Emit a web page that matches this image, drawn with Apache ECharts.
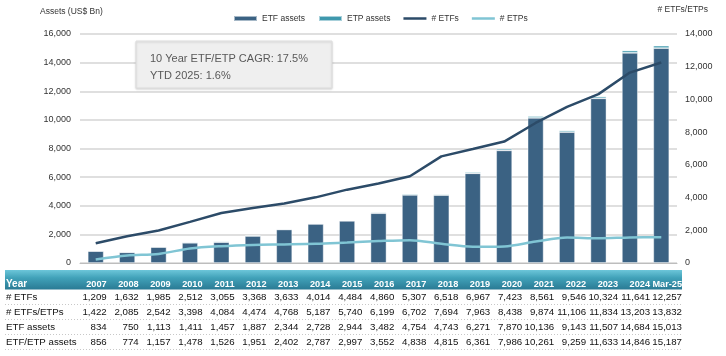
<!DOCTYPE html>
<html>
<head>
<meta charset="utf-8">
<script src="https://cdn.jsdelivr.net/npm/echarts@6/dist/echarts.min.js"></script>
<style>
html,body{margin:0;padding:0;background:#fff;}
#c{width:726px;height:356px;}
</style>
</head>
<body>
<div id="c"></div>
<script>
// ---- data ----
const years = ['2007','2008','2009','2010','2011','2012','2013','2014','2015','2016','2017','2018','2019','2020','2021','2022','2023','2024','Mar-25'];
const etfCount   = [1209,1632,1985,2512,3055,3368,3633,4014,4484,4860,5307,6518,6967,7423,8561,9546,10324,11641,12257];
const totalCount = [1422,2085,2542,3398,4084,4474,4768,5187,5740,6199,6702,7694,7963,8438,9874,11106,11834,13203,13832];
const etpCount   = [213,453,557,886,1029,1106,1135,1173,1256,1339,1395,1176,996,1015,1313,1560,1510,1562,1575];
const etfAssets  = [834,750,1113,1411,1457,1887,2344,2728,2944,3482,4754,4743,6271,7870,10136,9143,11507,14684,15013];
const etpAssets  = [22,24,44,67,69,64,58,59,53,70,84,72,90,116,125,116,126,162,174];
const totalAssets= [856,774,1157,1478,1526,1951,2402,2787,2997,3552,4838,4815,6361,7986,10261,9259,11633,14846,15187];
const leftTicks  = [0,2000,4000,6000,8000,10000,12000,14000,16000];
const rightTicks = [0,2000,4000,6000,8000,10000,12000,14000];
const tableRows  = ['# ETFs','# ETFs/ETPs','ETF assets','ETF/ETP assets'];
const tableData  = [etfCount,totalCount,etfAssets,totalAssets];
const noteLines  = ['10 Year ETF/ETP CAGR: 17.5%','YTD 2025: 1.6%'];

const FONT = '"Liberation Sans", Arial, sans-serif';
const fmt = v => Number(v).toLocaleString('en-US');

const cells = [];
tableData.forEach((arr, r) => arr.forEach((v, i) => cells.push([i, r, v])));

const chart = echarts.init(document.getElementById('c'), null, {renderer:'canvas'});

const T_TOP = 289.5, T_ROW = 15;
const seps = [0,1,2,3].map(k => ({
  type:'line', silent:true, z:1,
  shape:{x1:5, y1:T_TOP + T_ROW*(k+1), x2:682, y2:T_TOP + T_ROW*(k+1)},
  style:{stroke:'#c8c8c8', lineWidth:1, lineDash:[1,2]}
}));
const lineIcon = 'path://M0,0H23V2.5H0Z';

chart.setOption({
  animation:false,
  textStyle:{fontFamily:FONT},
  legend:{
    left:228, top:9, itemWidth:23, itemHeight:5, itemGap:13,
    textStyle:{fontSize:8.5, color:'#333', fontFamily:FONT},
    data:[{name:'ETF assets', icon:'rect'},{name:'ETP assets', icon:'rect'},
          {name:'# ETFs', icon:lineIcon},{name:'# ETPs', icon:lineIcon}]
  },
  grid:[
    {left:80, right:49, top:34, bottom:93},
    {left:106.7, right:44, top:T_TOP, bottom:356 - (T_TOP + 4*T_ROW)}
  ],
  xAxis:[
    {type:'category', gridIndex:0, data:years,
     axisLine:{lineStyle:{color:'#bdbdbd', width:1}}, axisTick:{show:false}, axisLabel:{show:false}},
    {type:'category', gridIndex:1, data:years, boundaryGap:false, position:'top',
     axisLine:{show:false}, axisTick:{show:false},
     axisLabel:{show:true, interval:0, color:'#ffffff', fontWeight:'bold', fontSize:9.2, fontFamily:FONT,
       align:'right', verticalAlign:'middle', margin:5}, z:20}
  ],
  yAxis:[
    {type:'value', gridIndex:0, min:0, max:16000, interval:2000,
     axisLine:{show:false}, axisTick:{show:false},
     axisLabel:{fontSize:9, color:'#333', margin:9, formatter:fmt},
     splitLine:{lineStyle:{color:'#d4d4d4', width:1.5}}},
    {type:'value', gridIndex:0, min:0, max:14000, interval:2000, position:'right',
     axisLine:{show:false}, axisTick:{show:false},
     axisLabel:{fontSize:9, color:'#333', margin:8, formatter:fmt},
     splitLine:{show:false}},
    {type:'category', gridIndex:1, data:tableRows, inverse:true,
     axisLine:{show:false}, axisTick:{show:false}, splitLine:{show:false},
     axisLabel:{align:'left', margin:100.7, fontSize:9.7, color:'#111', fontFamily:FONT}}
  ],
  series:[
    {name:'ETF assets', type:'bar', stack:'a', xAxisIndex:0, yAxisIndex:0, data:etfAssets, barWidth:16,
     itemStyle:{color:'#3b6283', borderColor:'rgba(255,255,255,0.55)', borderWidth:0.8}},
    {name:'ETP assets', type:'bar', stack:'a', xAxisIndex:0, yAxisIndex:0, data:etpAssets, barWidth:16,
     itemStyle:{color:'#3f98ad', borderColor:'rgba(255,255,255,0.55)', borderWidth:0.8}},
    {name:'# ETFs', type:'line', xAxisIndex:0, yAxisIndex:1, data:etfCount, symbol:'none', z:5,
     lineStyle:{color:'#2c4b68', width:2.5}, itemStyle:{color:'#2c4b68'}},
    {name:'# ETPs', type:'line', xAxisIndex:0, yAxisIndex:1, data:etpCount, symbol:'none', smooth:0.3, z:5,
     lineStyle:{color:'#80c5d4', width:2.5}, itemStyle:{color:'#80c5d4'}},
    {name:'table', type:'custom', coordinateSystem:'cartesian2d', xAxisIndex:1, yAxisIndex:2,
     data:cells, encode:{x:0, y:1}, silent:true,
     renderItem:function(params, api){
       const p = api.coord([api.value(0), api.value(1)]);
       return {type:'text', style:{text:fmt(api.value(2)), x:p[0], y:p[1], align:'right', verticalAlign:'middle',
         fill:'#111', fontSize:9.7, fontFamily:FONT}};
     }}
  ],
  graphic:[
    {type:'rect', silent:true, z:0, shape:{x:5, y:270, width:677, height:19.5},
     style:{fill:{type:'linear', x:0, y:0, x2:0, y2:1, global:false, colorStops:[
       {offset:0, color:'#6cc6d9'},{offset:0.4, color:'#41a2b9'},{offset:1, color:'#2a7a94'}]}}},
    {type:'text', silent:true, z:30, style:{text:'Year', x:6, y:284.5, verticalAlign:'middle',
      fill:'#ffffff', fontWeight:'bold', fontSize:10, fontFamily:FONT}},
    ...seps,
    {type:'text', silent:true, style:{text:'Assets (US$ Bn)', x:40, y:12, verticalAlign:'middle',
      fill:'#333', fontSize:8.5, fontFamily:FONT}},
    {type:'text', silent:true, style:{text:'# ETFs/ETPs', x:708, y:10, align:'right', verticalAlign:'middle',
      fill:'#333', fontSize:8.5, fontFamily:FONT}},
    {type:'rect', silent:true, z:10, shape:{x:136, y:41, width:196, height:47},
     style:{fill:'#efefef', stroke:'#dedede', lineWidth:1, shadowBlur:2, shadowColor:'rgba(0,0,0,0.15)', shadowOffsetY:1}},
    {type:'text', silent:true, z:11, style:{text:noteLines[0], x:150, y:59, verticalAlign:'middle',
      fill:'#595959', fontSize:11, fontFamily:FONT}},
    {type:'text', silent:true, z:11, style:{text:noteLines[1], x:150, y:76, verticalAlign:'middle',
      fill:'#595959', fontSize:11, fontFamily:FONT}}
  ]
});
</script>
</body>
</html>
